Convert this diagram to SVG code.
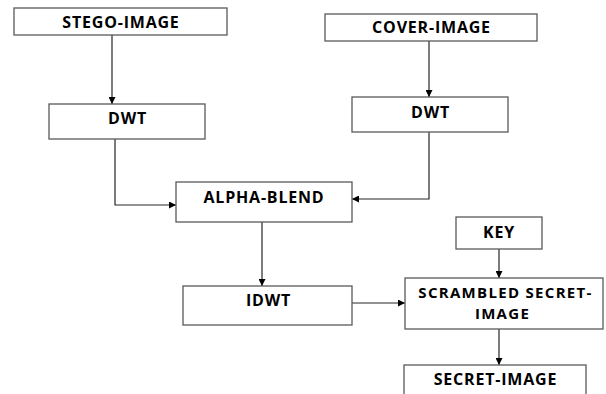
<svg xmlns="http://www.w3.org/2000/svg" width="606" height="394" viewBox="0 0 606 394">
<style>
.box{fill:#fff;stroke:#595959;stroke-width:1.3}
.t{font-family:"Open Sans","Liberation Sans",sans-serif;font-weight:700;font-size:16px;letter-spacing:0.8px;fill:#000;text-anchor:middle}
.s{font-size:15px;letter-spacing:1.3px}
.c{fill:none;stroke:#262626;stroke-width:1.2;marker-end:url(#ah)}
</style>
<defs>
<marker id="ah" viewBox="0 0 10 10" refX="10" refY="5" markerWidth="7" markerHeight="7" markerUnits="userSpaceOnUse" orient="auto">
<path d="M0,0 L10,5 L0,10 z" fill="#000"/>
</marker>
</defs>
<rect width="606" height="394" fill="#fff"/>
<g id="connectors">
<path class="c" d="M112,35 V104"/>
<path class="c" d="M429,41 V97"/>
<path class="c" d="M115,139 V205 H176"/>
<path class="c" d="M429,132 V199 H352"/>
<path class="c" d="M262,222 V286"/>
<path class="c" d="M352,303 H405"/>
<path class="c" d="M499,249 V278"/>
<path class="c" d="M499,329 V365"/>
</g>
<g id="stego"><rect class="box" x="14" y="8" width="213" height="27"/><text class="t" x="121" y="27.5">STEGO-IMAGE</text></g>
<g id="cover"><rect class="box" x="325" y="14" width="212" height="27"/><text class="t" x="431.5" y="33">COVER-IMAGE</text></g>
<g id="dwt1"><rect class="box" x="49" y="104" width="156" height="35"/><text class="t" x="127.5" y="123.5">DWT</text></g>
<g id="dwt2"><rect class="box" x="352" y="97" width="156" height="35"/><text class="t" x="430.5" y="117.5">DWT</text></g>
<g id="alpha"><rect class="box" x="176" y="182" width="176" height="40"/><text class="t" x="264" y="202.5">ALPHA-BLEND</text></g>
<g id="idwt"><rect class="box" x="183" y="286" width="169" height="39"/><text class="t" x="268.5" y="305.5">IDWT</text></g>
<g id="key"><rect class="box" x="456" y="217" width="86" height="32"/><text class="t" x="499" y="237.5">KEY</text></g>
<g id="scrambled"><rect class="box" x="405" y="278" width="198" height="51"/><text class="t s" x="505.5" y="297.5">SCRAMBLED SECRET-</text><text class="t s" x="502.5" y="318.5">IMAGE</text></g>
<g id="secret"><rect class="box" x="404" y="365" width="182" height="40"/><text class="t" x="495.5" y="384.5">SECRET-IMAGE</text></g>
</svg>
